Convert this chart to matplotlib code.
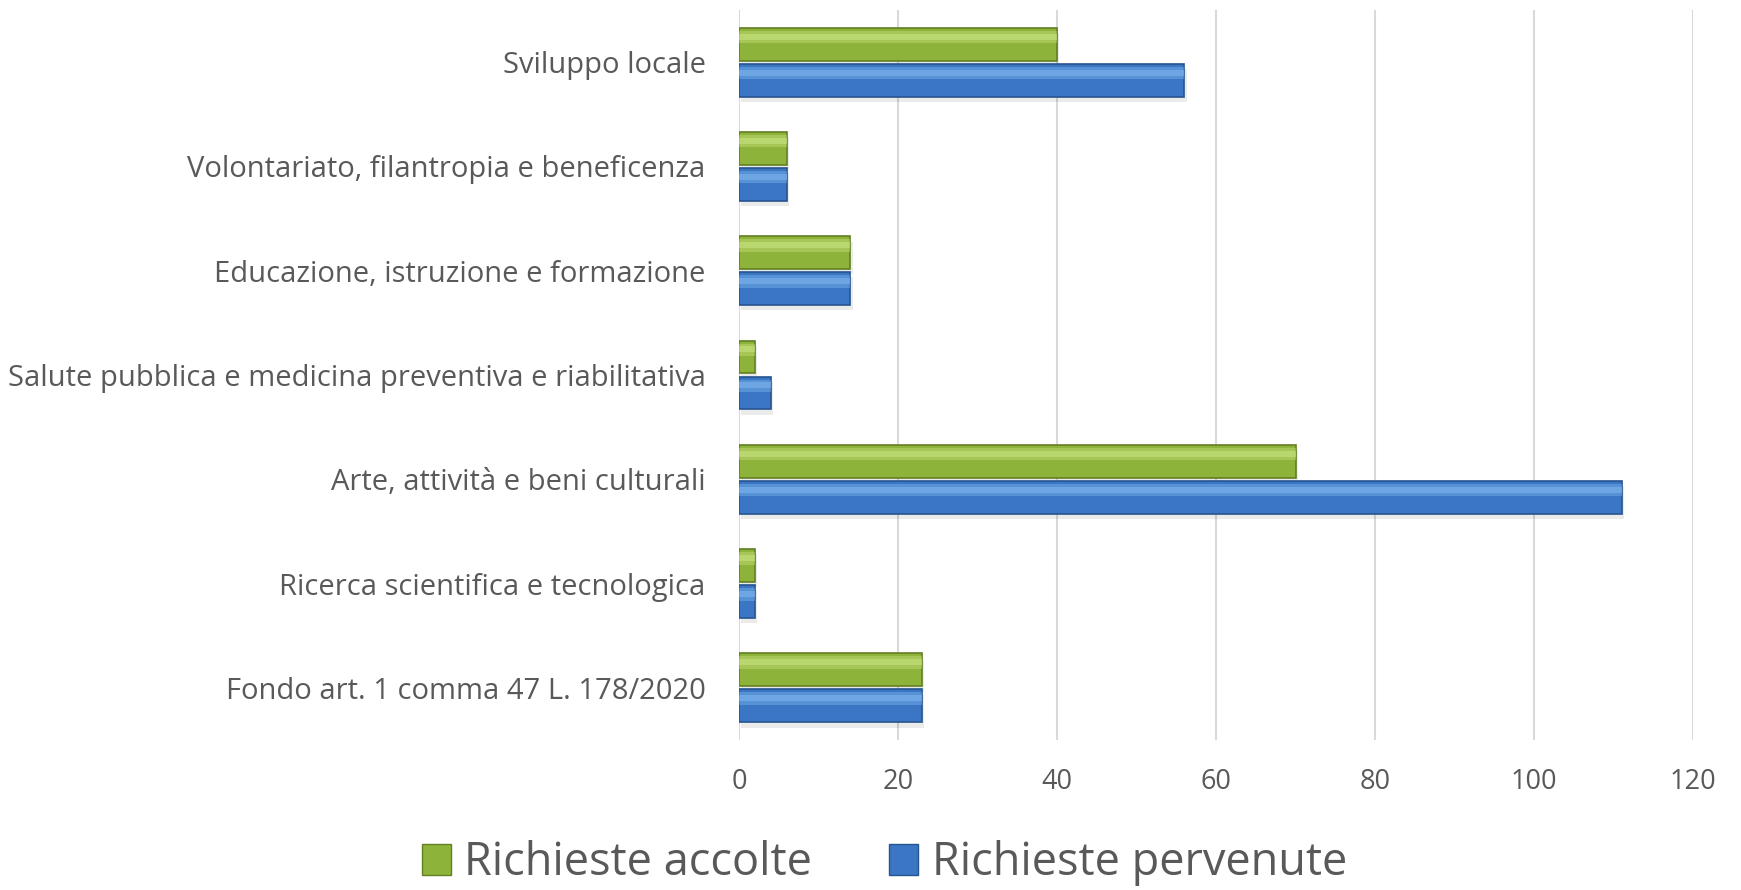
import matplotlib
matplotlib.use("Agg")
import matplotlib.pyplot as plt
from matplotlib.patches import Patch
import numpy as np

categories = [
    "Sviluppo locale",
    "Volontariato, filantropia e beneficenza",
    "Educazione, istruzione e formazione",
    "Salute pubblica e medicina preventiva e riabilitativa",
    "Arte, attività e beni culturali",
    "Ricerca scientifica e tecnologica",
    "Fondo art. 1 comma 47 L. 178/2020",
]
accolte = [40, 6, 14, 2, 70, 2, 23]
pervenute = [56, 6, 14, 4, 111, 2, 23]
xticks = [0, 20, 40, 60, 80, 100, 120]

plt.rcParams['font.family'] = ['Open Sans', 'DejaVu Sans']
text_color = "#595959"

fig = plt.figure(figsize=(17.41, 8.90), dpi=100)
ax = fig.add_axes([0.4245, 0.1685, 0.548, 0.8203])

y = np.arange(len(categories))
h = 0.315
gap = 0.015
yg = y - h / 2 - gap
yb = y + h / 2 + gap

green, green_dark, green_light = "#8DB33A", "#637F22", "#CDE686"
blue, blue_dark, blue_light = "#3A76C4", "#26548F", "#85BCF2"

# shadow
ax.barh(yg + 0.05, accolte, height=h, left=0.3, color="#000000", alpha=0.08, zorder=2)
ax.barh(yb + 0.05, pervenute, height=h, left=0.3, color="#000000", alpha=0.08, zorder=2)
# base bars
ax.barh(yg, accolte, height=h, color=green, edgecolor=green_dark, linewidth=1.2, zorder=3)
ax.barh(yb, pervenute, height=h, color=blue, edgecolor=blue_dark, linewidth=1.2, zorder=3)
# highlights (bevel effect)
ax.barh(yg - h * 0.22, accolte, height=h * 0.38, color=green_light, alpha=0.4, linewidth=0, zorder=4)
ax.barh(yb - h * 0.22, pervenute, height=h * 0.38, color=blue_light, alpha=0.4, linewidth=0, zorder=4)
ax.barh(yg - h * 0.23, accolte, height=h * 0.18, color=green_light, alpha=0.5, linewidth=0, zorder=4)
ax.barh(yb - h * 0.23, pervenute, height=h * 0.18, color=blue_light, alpha=0.5, linewidth=0, zorder=4)

ax.set_xlim(0, 120)
ax.set_ylim(6.5, -0.5)
ax.set_xticks(xticks)
ax.set_xticklabels([str(t) for t in xticks], fontsize=19.5, color=text_color)
ax.set_yticks(y)
ax.set_yticklabels(categories, fontsize=21, color=text_color)
ax.tick_params(axis='both', length=0)
ax.tick_params(axis='x', pad=20)
ax.tick_params(axis='y', pad=24)
ax.xaxis.grid(True, color="#D9D9D9", linewidth=1.5, zorder=0)
ax.set_axisbelow(True)
for s in ax.spines.values():
    s.set_visible(False)

handles = [Patch(facecolor=green, edgecolor=green_dark, label="Richieste accolte"),
           Patch(facecolor=blue, edgecolor=blue_dark, label="Richieste pervenute")]
fig.legend(handles=handles, loc="center", bbox_to_anchor=(0.508, 0.03), ncol=2,
           frameon=False, fontsize=32.5, handlelength=0.65, handleheight=0.65,
           handletextpad=0.3, columnspacing=1.7, labelcolor=text_color)

fig.savefig("out.png", dpi=100, facecolor="white")
